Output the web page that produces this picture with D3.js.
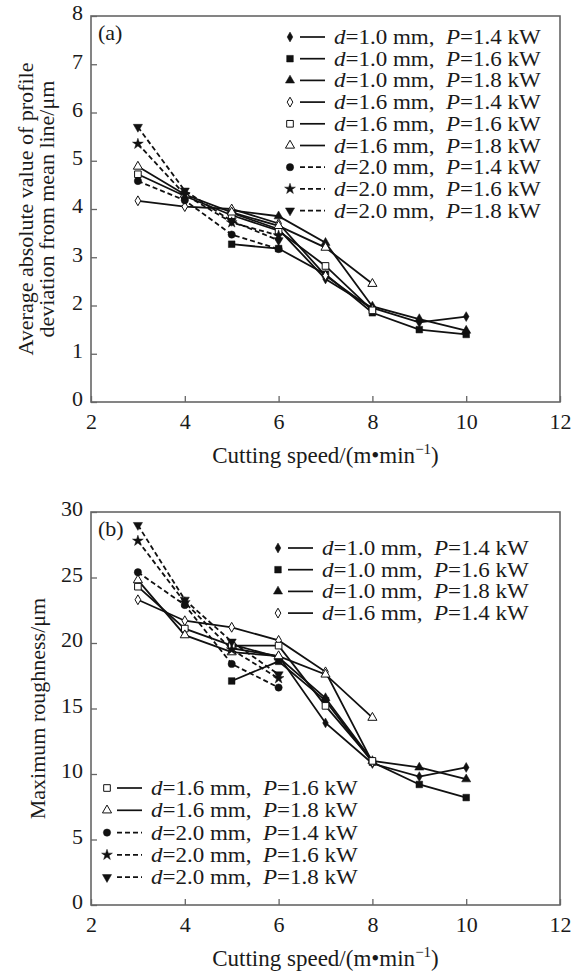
<!DOCTYPE html>
<html>
<head>
<meta charset="utf-8">
<script src="https://cdn.jsdelivr.net/npm/d3@7"></script>
<style>
  body { margin: 0; background: #fff; }
  text { font-family: "Liberation Serif", "Times New Roman", serif; fill: #1a1a1a; }
</style>
</head>
<body>
<svg id="chart" width="582" height="974"></svg>
<script>
// cutting speeds used by each depth group
var speedD10 = [5, 6, 7, 8, 9, 10];
var speedD16 = [3, 4, 5, 6, 7, 8];
var speedD20 = [3, 4, 5, 6];

var depths = ["1.0", "1.0", "1.0", "1.6", "1.6", "1.6", "2.0", "2.0", "2.0"];
var powers = ["1.4", "1.6", "1.8", "1.4", "1.6", "1.8", "1.4", "1.6", "1.8"];

// (a) average absolute deviation from mean line, um
var deviation = [
  [3.92, 3.58, 2.55, 1.95, 1.65, 1.77],
  [3.27, 3.18, 2.65, 1.85, 1.50, 1.40],
  [3.97, 3.85, 3.30, 1.98, 1.72, 1.48],
  [4.17, 4.05, 4.00, 3.70, 2.62, 1.92],
  [4.72, 4.27, 3.87, 3.55, 2.82, 1.90],
  [4.88, 4.30, 3.93, 3.65, 3.20, 2.45],
  [4.58, 4.18, 3.47, 3.17],
  [5.35, 4.30, 3.72, 3.45],
  [5.70, 4.38, 3.75, 3.35]
];

// (b) maximum roughness, um
var roughness = [
  [19.6, 19.0, 13.9, 10.8, 9.8, 10.5],
  [17.1, 18.6, 15.6, 10.9, 9.2, 8.2],
  [19.9, 18.9, 15.8, 11.0, 10.5, 9.6],
  [23.3, 21.7, 21.2, 20.2, 17.8, 10.9],
  [24.3, 21.1, 19.8, 19.8, 15.2, 11.0],
  [24.8, 20.6, 19.3, 19.0, 17.6, 14.3],
  [25.4, 22.9, 18.4, 16.6],
  [27.8, 23.1, 19.5, 17.3],
  [29.0, 23.3, 20.1, 17.6]
];

var xTicks = [2, 4, 6, 8, 10, 12];
var yTicksA = [0, 1, 2, 3, 4, 5, 6, 7, 8];
var yTicksB = [0, 5, 10, 15, 20, 25, 30];

var speeds = [speedD10, speedD10, speedD10, speedD16, speedD16, speedD16, speedD20, speedD20, speedD20];

// marker style per series
var shapes = [d3.symbolDiamond, d3.symbolSquare, d3.symbolTriangle,
              d3.symbolDiamond, d3.symbolSquare, d3.symbolTriangle,
              d3.symbolCircle, d3.symbolStar, d3.symbolTriangle];
var sizes = [28, 44, 36, 28, 44, 36, 42, 36, 36];
var filled = [true, true, true, false, false, false, true, true, true];
var dashed = [false, false, false, false, false, false, true, true, true];
var flipped = [false, false, false, false, false, false, false, false, true];

var svg = d3.select("#chart");
var left = 91, right = 560;

function marker(g, i, x, y) {
  g.append("path")
    .attr("d", d3.symbol().type(shapes[i]).size(sizes[i])())
    .attr("transform", "translate(" + x + "," + y + ")" + (flipped[i] ? " rotate(180)" : ""))
    .attr("fill", filled[i] ? "#111" : "#fff")
    .attr("stroke", "#111")
    .attr("stroke-width", filled[i] ? 0.5 : 1);
}

function legendRow(g, i, mx, y) {
  marker(g, i, mx, y);
  g.append("line")
    .attr("x1", mx + 10).attr("x2", mx + 35)
    .attr("y1", y).attr("y2", y)
    .attr("stroke", "#111").attr("stroke-width", 1.7)
    .attr("stroke-dasharray", dashed[i] ? "5,3" : null);
  var t = g.append("g").attr("transform", "translate(" + (mx + 44) + "," + (y + 7) + ") scale(1.15,1)")
    .append("text").style("font-size", "20px");
  t.append("tspan").style("font-style", "italic").text("d");
  t.append("tspan").text("=" + depths[i] + " mm,");
  t.append("tspan").attr("dx", 10).style("font-style", "italic").text("P");
  t.append("tspan").text("=" + powers[i] + " kW");
}

function panel(opts) {
  var x = d3.scaleLinear().domain([2, 12]).range([left, right]);
  var y = d3.scaleLinear().domain([0, opts.yMax]).range([opts.bottom, opts.top]);
  var g = svg.append("g");

  // frame
  g.append("rect")
    .attr("x", left).attr("y", opts.top)
    .attr("width", right - left).attr("height", opts.bottom - opts.top)
    .attr("fill", "none").attr("stroke", "#666").attr("stroke-width", 1.6);

  var xAxis = g.append("g").attr("transform", "translate(0," + opts.bottom + ")")
    .call(d3.axisBottom(x).tickValues(xTicks).tickSizeInner(-6).tickSizeOuter(0).tickPadding(11));
  var yAxis = g.append("g").attr("transform", "translate(" + left + ",0)")
    .call(d3.axisLeft(y).tickValues(opts.yTicks).tickSizeInner(-6).tickSizeOuter(0).tickPadding(8));
  [xAxis, yAxis].forEach(function(a) {
    a.select(".domain").remove();
    a.selectAll(".tick line").attr("stroke", "#666").attr("stroke-width", 1.3);
    a.selectAll(".tick text").style("font-size", "22px").attr("fill", "#1a1a1a")
      .attr("font-family", null);
  });
  yAxis.selectAll(".tick text").attr("dy", "0.18em");

  // series
  var line = d3.line().x(function(d) { return x(d[0]); }).y(function(d) { return y(d[1]); });
  opts.values.forEach(function(vals, i) {
    var pts = vals.map(function(v, j) { return [speeds[i][j], v]; });
    g.append("path").datum(pts)
      .attr("d", line)
      .attr("fill", "none").attr("stroke", "#111").attr("stroke-width", 1.8)
      .attr("stroke-dasharray", dashed[i] ? "5,3" : null);
  });
  opts.values.forEach(function(vals, i) {
    vals.forEach(function(v, j) { marker(g, i, x(speeds[i][j]), y(v)); });
  });

  g.append("text").attr("x", left + 7).attr("y", opts.top + 24)
    .style("font-size", "22px").text(opts.tag);

  // x title
  var xt = g.append("text").attr("x", (left + right) / 2).attr("y", opts.bottom + 61)
    .attr("text-anchor", "middle").style("font-size", "23px");
  xt.append("tspan").text("Cutting speed/(m\u2022min");
  xt.append("tspan").attr("dy", -9).style("font-size", "15px").text("\u22121");
  xt.append("tspan").attr("dy", 9).text(")");

  // y title
  var cy = (opts.top + opts.bottom) / 2;
  opts.yTitle.forEach(function(s, k) {
    g.append("text")
      .attr("transform", "translate(" + opts.yTitleX[k] + "," + cy + ") rotate(-90)")
      .attr("text-anchor", "middle").style("font-size", "22px")
      .text(s);
  });

  opts.legends.forEach(function(lg) {
    lg.rows.forEach(function(i, k) { legendRow(g, i, lg.mx, lg.y0 + k * lg.step); });
  });
}

panel({
  top: 16, bottom: 402, yMax: 8, yTicks: yTicksA, values: deviation, tag: "(a)",
  yTitle: ["Average absolute value of profile", "deviation from mean line/\u03bcm"],
  yTitleX: [33, 54],
  legends: [{ rows: [0, 1, 2, 3, 4, 5, 6, 7, 8], mx: 290, y0: 37, step: 21.7 }]
});

panel({
  top: 512, bottom: 905, yMax: 30, yTicks: yTicksB, values: roughness, tag: "(b)",
  yTitle: ["Maximum roughness/\u03bcm"],
  yTitleX: [45],
  legends: [
    { rows: [0, 1, 2, 3], mx: 278, y0: 548, step: 21.7 },
    { rows: [4, 5, 6, 7, 8], mx: 107, y0: 788, step: 22.3 }
  ]
});
</script>
</body>
</html>
